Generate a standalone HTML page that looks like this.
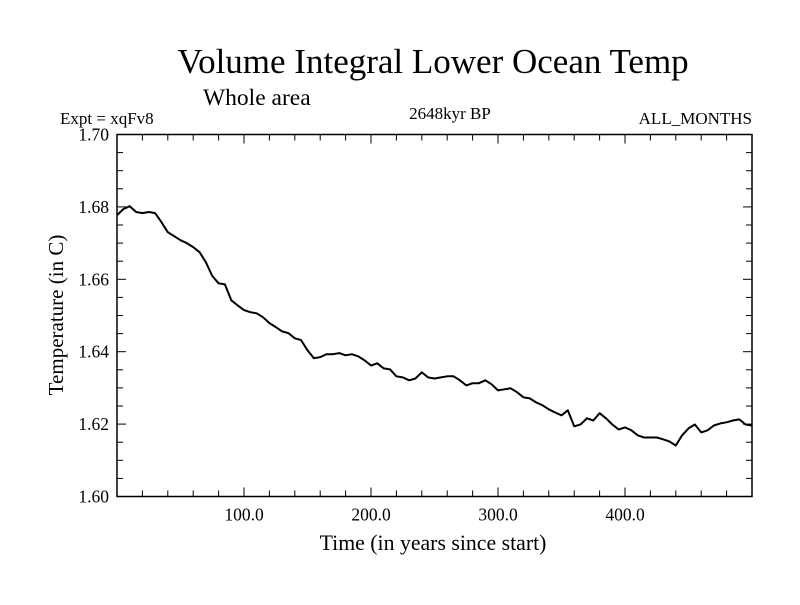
<!DOCTYPE html>
<html><head><meta charset="utf-8"><style>
body{margin:0;background:#fff}
svg text{font-family:"Liberation Serif",serif;fill:#000}
</style></head><body>
<svg id="c" width="800" height="600" viewBox="0 0 800 600">
<text x="433" y="73" font-size="35" text-anchor="middle">Volume Integral Lower Ocean Temp</text>
<text x="203" y="105" font-size="23.5">Whole area</text>
<text x="60" y="124" font-size="17">Expt = xqFv8</text>
<text x="450" y="119" font-size="17" text-anchor="middle">2648kyr BP</text>
<text x="752" y="124" font-size="17" text-anchor="end">ALL_MONTHS</text>
<text x="433" y="550" font-size="21.8" text-anchor="middle">Time (in years since start)</text>
<text transform="translate(63,315) rotate(-90)" font-size="21" text-anchor="middle">Temperature (in C)</text>
<g id="axes"></g>
</svg>
<script>
const yTicks=[1.60,1.62,1.64,1.66,1.68,1.70];
const yTickLabels=["1.60","1.62","1.64","1.66","1.68","1.70"];
const xTicks=[100,200,300,400];
const xTickLabels=["100.0","200.0","300.0","400.0"];
const tempValues=[1.6777,1.6794,1.6802,1.6786,1.6783,1.6786,1.6783,1.6758,1.6730,1.6719,1.6708,1.6700,1.6689,1.6675,1.6647,1.6609,1.6589,1.6586,1.6542,1.6528,1.6515,1.6509,1.6506,1.6495,1.6479,1.6468,1.6456,1.6451,1.6437,1.6432,1.6404,1.6382,1.6385,1.6393,1.6393,1.6396,1.6390,1.6393,1.6387,1.6376,1.6362,1.6368,1.6354,1.6351,1.6332,1.6329,1.6321,1.6326,1.6343,1.6329,1.6326,1.6329,1.6332,1.6332,1.6321,1.6307,1.6313,1.6313,1.6321,1.6310,1.6293,1.6296,1.6299,1.6288,1.6274,1.6271,1.6260,1.6252,1.6241,1.6232,1.6224,1.6238,1.6194,1.6199,1.6216,1.6210,1.6230,1.6216,1.6199,1.6185,1.6191,1.6183,1.6169,1.6163,1.6163,1.6163,1.6158,1.6152,1.6141,1.6169,1.6188,1.6199,1.6177,1.6183,1.6196,1.6202,1.6205,1.6210,1.6213,1.6199,1.6196];
const yearStep=5;
const L=117,R=752,T=134.5,B=496.5,xMin=0,xMax=500,yMin=1.60,yMax=1.70;
const sx=v=>L+(v-xMin)/(xMax-xMin)*(R-L);
const sy=v=>B-(v-yMin)/(yMax-yMin)*(B-T);
const NS="http://www.w3.org/2000/svg";
const g=document.getElementById('axes');
function mk(tag,attrs){const e=document.createElementNS(NS,tag);for(const k in attrs)e.setAttribute(k,attrs[k]);g.appendChild(e);return e;}
const frame=mk('rect',{x:L,y:T,width:R-L,height:B-T,fill:'none',stroke:'#000','stroke-width':1.5});


for(let v=yMin;v<=yMax+1e-9;v+=0.005){
  const y=sy(v);const major=Math.abs(Math.round(v*50)-v*50)<1e-6;const len=major?9:6;
  const t1=mk('line',{x1:L,x2:L+len,y1:y,y2:y,stroke:'#000'});
  
  
  const t2=mk('line',{x1:R,x2:R-len,y1:y,y2:y,stroke:'#000'});
  
  
}
yTicks.forEach((v,i)=>{
  const t=mk('text',{x:L-8,y:sy(v)+6,'font-size':17.5,'text-anchor':'end'});t.textContent=yTickLabels[i];
  
  
});
for(let v=20;v<xMax;v+=20){
  const x=sx(v);const major=v%100===0;const len=major?9:6;
  const t1=mk('line',{x1:x,x2:x,y1:B,y2:B-len,stroke:'#000'});
  
  
  const t2=mk('line',{x1:x,x2:x,y1:T,y2:T+len,stroke:'#000'});
  
  
}
xTicks.forEach((v,i)=>{
  const t=mk('text',{x:sx(v),y:B+24,'font-size':17.5,'text-anchor':'middle'});t.textContent=xTickLabels[i];
  
  
});
const pts=tempValues.map((v,i)=>sx(i*yearStep).toFixed(1)+','+sy(v).toFixed(1)).join(' ');
const line=mk('polyline',{points:pts,fill:'none',stroke:'#000','stroke-width':2,'stroke-linejoin':'round'});


</script>
</body></html>
